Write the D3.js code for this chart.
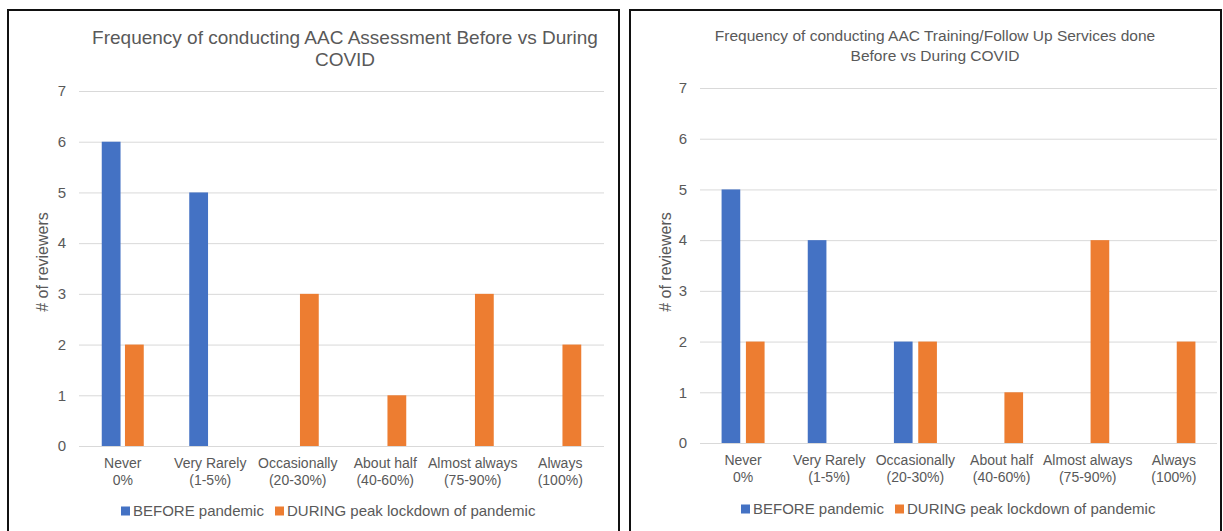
<!DOCTYPE html>
<html>
<head>
<meta charset="utf-8">
<script src="https://cdn.jsdelivr.net/npm/d3@7"></script>
<style>
  body { margin: 0; background: #fff; }
  text { font-family: "Liberation Sans", Arial, Helvetica, sans-serif; fill: #595959; }
</style>
</head>
<body>
<div id="chart"></div>
<script>
// category labels (two lines each)
var catLine1 = ["Never", "Very Rarely", "Occasionally", "About half", "Almost always", "Always"];
var catLine2 = ["0%", "(1-5%)", "(20-30%)", "(40-60%)", "(75-90%)", "(100%)"];
var seriesNames = ["BEFORE pandemic", "DURING peak lockdown of pandemic"];
var seriesColors = ["#4472C4", "#ED7D31"];
var yTicks = [0, 1, 2, 3, 4, 5, 6, 7];

// left chart: assessment
var assessBefore = [6, 5, 0, 0, 0, 0];
var assessDuring = [2, 0, 3, 1, 3, 2];
// right chart: training / follow up
var trainBefore = [5, 4, 2, 0, 0, 0];
var trainDuring = [2, 0, 2, 1, 4, 2];

var W = 1223, H = 531;
var svg = d3.select("#chart").append("svg")
    .attr("width", W)
    .attr("height", H);

svg.append("rect").attr("width", W).attr("height", H).attr("fill", "#fff");

// panel frames
svg.append("rect")
    .attr("x", 8).attr("y", 10).attr("width", 611).attr("height", 540)
    .attr("fill", "none").attr("stroke", "#111").attr("stroke-width", 2);
svg.append("rect")
    .attr("x", 630).attr("y", 10).attr("width", 591).attr("height", 540)
    .attr("fill", "none").attr("stroke", "#111").attr("stroke-width", 2);

function drawChart(opt) {
  var g = svg.append("g");

  var x0 = d3.scaleBand()
      .domain(catLine1)
      .range([opt.left, opt.right]);

  var y = d3.scaleLinear()
      .domain([0, 7])
      .range([opt.bottom, opt.top]);

  var x1 = d3.scaleBand()
      .domain([0, 1])
      .range([-opt.groupW / 2, opt.groupW / 2])
      .paddingInner(opt.gap / (opt.groupW / 2));

  // gridlines
  g.append("g")
    .call(d3.axisLeft(y).tickValues(yTicks).tickSize(-(opt.right - opt.left)).tickFormat(""))
    .attr("transform", "translate(" + opt.left + ",0)")
    .call(function (a) {
      a.select(".domain").remove();
      a.selectAll("line").attr("stroke", "#d9d9d9").attr("stroke-width", 1);
    });

  // y tick labels
  g.selectAll(".ylab")
    .data(yTicks)
    .enter().append("text")
      .attr("x", opt.left - opt.tickOff)
      .attr("y", function (d) { return y(d); })
      .attr("dy", "0.35em")
      .attr("text-anchor", "end")
      .style("font-size", "15px")
      .text(function (d) { return d; });

  // bars
  var rows = catLine1.map(function (c, i) {
    return { cat: c, vals: [opt.before[i], opt.during[i]] };
  });
  var grp = g.selectAll(".grp")
    .data(rows)
    .enter().append("g")
      .attr("transform", function (d) {
        return "translate(" + (x0(d.cat) + x0.bandwidth() / 2) + ",0)";
      });
  grp.selectAll("rect")
    .data(function (d) { return d.vals.map(function (v, k) { return { k: k, v: v }; }); })
    .enter().append("rect")
      .attr("x", function (d) { return x1(d.k); })
      .attr("width", x1.bandwidth())
      .attr("y", function (d) { return y(d.v); })
      .attr("height", function (d) { return y(0) - y(d.v); })
      .attr("fill", function (d) { return seriesColors[d.k]; });

  // x labels
  catLine1.forEach(function (c, i) {
    var t = g.append("text")
      .attr("x", x0(c) + x0.bandwidth() / 2)
      .attr("y", opt.bottom + 22)
      .attr("text-anchor", "middle")
      .style("font-size", "14px");
    t.append("tspan").attr("x", x0(c) + x0.bandwidth() / 2).text(c);
    t.append("tspan").attr("x", x0(c) + x0.bandwidth() / 2).attr("dy", 16.5).text(catLine2[i]);
  });

  // y axis title
  g.append("text")
    .attr("transform", "translate(" + opt.yTitleX + "," + opt.yTitleY + ") rotate(-90)")
    .attr("text-anchor", "middle")
    .style("font-size", "16px")
    .text("# of reviewers");

  // chart title
  opt.title.forEach(function (line, i) {
    g.append("text")
      .attr("x", opt.titleX)
      .attr("y", opt.titleY + i * opt.titleLH)
      .attr("text-anchor", "middle")
      .style("font-size", opt.titleSize + "px")
      .text(line);
  });

  // legend
  var lg = g.append("g").attr("transform", "translate(" + opt.legendX + "," + opt.legendY + ")");
  var offs = [0, 154];
  seriesNames.forEach(function (s, k) {
    lg.append("rect")
      .attr("x", offs[k]).attr("y", -4.5)
      .attr("width", 9).attr("height", 9)
      .attr("fill", seriesColors[k]);
    lg.append("text")
      .attr("x", offs[k] + 12)
      .attr("y", 0)
      .attr("dy", "0.35em")
      .style("font-size", "15px")
      .text(s);
  });
}

drawChart({
  left: 79, right: 604, top: 91, bottom: 446,
  groupW: 42, gap: 4,
  before: assessBefore, during: assessDuring,
  title: ["Frequency of conducting AAC Assessment Before vs During", "COVID"],
  titleX: 345, titleY: 44, titleLH: 22, titleSize: 19,
  tickOff: 13,
  yTitleX: 48, yTitleY: 262,
  legendX: 121, legendY: 511
});

drawChart({
  left: 700, right: 1217, top: 88, bottom: 443,
  groupW: 43, gap: 5,
  before: trainBefore, during: trainDuring,
  title: ["Frequency of conducting AAC Training/Follow Up Services done", "Before vs During COVID"],
  titleX: 935, titleY: 41, titleLH: 20, titleSize: 15.5,
  tickOff: 13,
  yTitleX: 671, yTitleY: 262,
  legendX: 741, legendY: 509
});
</script>
</body>
</html>
